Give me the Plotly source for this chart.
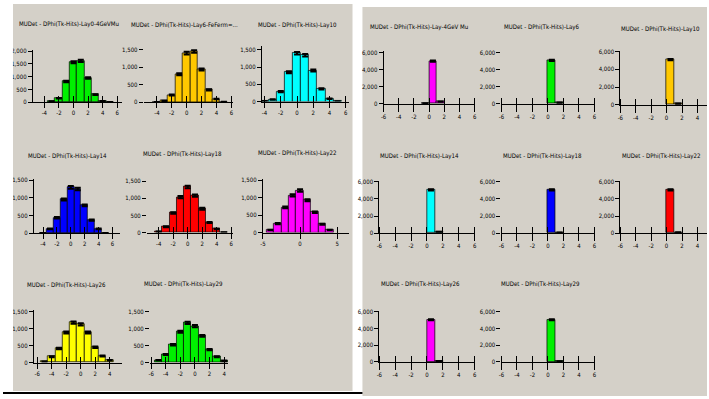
import math
import plotly.graph_objects as go

W, H = 709, 399
PANEL_GREY = "#d4d0c8"
FONT = "Liberation Sans Narrow, DejaVu Sans Condensed, Liberation Sans, sans-serif"

# Unit-width bin centres of the DPhi(Tk-Hits) histograms
bins_left = [-5, -4, -3, -2, -1, 0, 1, 2, 3, 4, 5]
bins_right = [-0.5, 0.5, 1.5]

# Entries per bin, left panel
lay0_4gev_mu = [None, None, 30, 155, 810, 1570, 1620, 950, 300, 40, 5]
lay6_feferm = [None, 5, 40, 206, 800, 1410, 1455, 940, 357, 94, 8]
lay10 = [None, 10, 60, 290, 850, 1400, 1340, 900, 370, 80, 5]
lay14 = [None, 5, 120, 435, 953, 1296, 1250, 787, 370, 120, 5]
lay18 = [None, 30, 170, 570, 1030, 1330, 1076, 695, 295, 105, 5]
lay22 = [None, 74, 259, 722, 1065, 1204, 926, 583, 241, 74, None]
lay26 = [30, 173, 414, 887, 1175, 1127, 887, 453, 193, 67, None]
lay29 = [67, 240, 529, 915, 1175, 1078, 790, 385, 173, 48, None]

# Entries per bin, right panel
r_lay_4gev_mu = [70, 5000, 260]
r_lay6 = [None, 5080, 150]
r_lay10 = [None, 5070, 150]
r_lay14 = [None, 5050, 170]
r_lay18 = [None, 5050, 60]
r_lay22 = [None, 5050, 90]
r_lay26 = [None, 5050, 100]
r_lay29 = [None, 5050, 60]

titles_left = [
    "MUDet - DPhi(Tk-Hits)-Lay0-4GeVMu",
    "MUDet - DPhi(Tk-Hits)-Lay6-FeFerm=...",
    "MUDet - DPhi(Tk-Hits)-Lay10",
    "MUDet - DPhi(Tk-Hits)-Lay14",
    "MUDet - DPhi(Tk-Hits)-Lay18",
    "MUDet - DPhi(Tk-Hits)-Lay22",
    "MUDet - DPhi(Tk-Hits)-Lay26",
    "MUDet - DPhi(Tk-Hits)-Lay29",
]
titles_right = [
    "MUDet - DPhi(Tk-Hits)-Lay-4GeV Mu",
    "MUDet - DPhi(Tk-Hits)-Lay6",
    "MUDet - DPhi(Tk-Hits)-Lay10",
    "MUDet - DPhi(Tk-Hits)-Lay14",
    "MUDet - DPhi(Tk-Hits)-Lay18",
    "MUDet - DPhi(Tk-Hits)-Lay22",
    "MUDet - DPhi(Tk-Hits)-Lay26",
    "MUDet - DPhi(Tk-Hits)-Lay29",
]

x_ticks = [-6, -4, -2, 0, 2, 4, 6]
x_ticks_coarse = [-5, 0, 5]
y_ticks_2000 = [0, 500, 1000, 1500, 2000]
y_ticks_1500 = [0, 500, 1000, 1500]
y_ticks_6000 = [0, 2000, 4000, 6000]

GREEN, ORANGE, CYAN, BLUE = "#00f000", "#ffc800", "#00ffff", "#0000ff"
RED, MAGENTA, YELLOW = "#ff0000", "#ff00ff", "#ffff00"

# (title, counts, bins, colour, x px span, (zero px, top px), x range, y max,
#  x ticks, y ticks, y line, title px, x tick length)
panels = [
    (titles_left[0], lay0_4gev_mu, bins_left, GREEN, (30, 120), (100, 47), (-5.58, 6.67), 2040, x_ticks, y_ticks_2000, True, (66, 20), 5),
    (titles_left[1], lay6_feferm, bins_left, ORANGE, (141.7, 231.7), (100, 43.2), (-5.77, 6.23), 1600, x_ticks, y_ticks_1500, False, (182.5, 21), 5),
    (titles_left[2], lay10, bins_left, CYAN, (260.7, 348), (99.3, 42.7), (-4.33, 6.34), 1612, x_ticks, y_ticks_1500, True, (297, 21), 5),
    (titles_left[3], lay14, bins_left, BLUE, (31, 118), (233.3, 178.3), (-5.33, 7.1), 1528, x_ticks, y_ticks_1500, True, (65, 155), 5),
    (titles_left[4], lay18, bins_left, RED, (145, 231.7), (232.7, 176.7), (-5.62, 6.25), 1600, x_ticks, y_ticks_1500, False, (181, 153), 5),
    (titles_left[5], lay22, bins_left, MAGENTA, (261.7, 348.3), (232.7, 178), (-5.01, 6.57), 1537, x_ticks_coarse, y_ticks_1500, True, (297, 152), 5),
    (titles_left[6], lay26, bins_left, YELLOW, (31, 120), (365, 311.7), (-6.48, 5.71), 1540, x_ticks, y_ticks_1500, True, (63.5, 286), 5),
    (titles_left[7], lay29, bins_left, GREEN, (148, 226.7), (365, 310), (-6.16, 4.54), 1600, x_ticks, y_ticks_1500, False, (181.5, 285), 5),
    (titles_right[0], r_lay_4gev_mu, bins_right, MAGENTA, (383.3, 475), (101.7, 48.3), (-6, 6), 6120, x_ticks, y_ticks_6000, True, (419, 23), 7),
    (titles_right[1], r_lay6, bins_right, GREEN, (502, 596), (101.7, 48.3), (-6, 6.05), 6120, x_ticks, y_ticks_6000, False, (543, 23), 7),
    (titles_right[2], r_lay10, bins_right, ORANGE, (621.7, 709), (102.7, 48.3), (-6, 5.24), 6000, x_ticks, y_ticks_6000, True, (662.5, 25), 7),
    (titles_right[3], r_lay14, bins_right, CYAN, (379, 475), (233.3, 180), (-6, 6), 6110, x_ticks, y_ticks_6000, True, (419, 155), 7),
    (titles_right[4], r_lay18, bins_right, BLUE, (502, 596), (233.3, 180), (-6, 6.05), 6110, x_ticks, y_ticks_6000, False, (543, 155), 7),
    (titles_right[5], r_lay22, bins_right, RED, (621.7, 709), (233.3, 180), (-6, 5.24), 6110, x_ticks, y_ticks_6000, True, (663, 155), 7),
    (titles_right[6], r_lay26, bins_right, MAGENTA, (379, 475), (364.3, 312.5), (-6, 6), 6100, x_ticks, y_ticks_6000, True, (420, 285), 7),
    (titles_right[7], r_lay29, bins_right, GREEN, (502, 596), (364.3, 312.5), (-6, 6.05), 6100, x_ticks, y_ticks_6000, False, (541, 285), 7),
]

fig = go.Figure()
layout_axes = {}
annotations = []
tick_font = dict(family=FONT, size=6, color="black")

for i, (title, counts, bins, colour, xspan, yspan, xr, ymax, xt, yt, yline, tpos, xtlen) in enumerate(panels, start=1):
    sfx = "" if i == 1 else str(i)
    errs = [math.sqrt(c) if c else 0 for c in counts]
    fig.add_trace(go.Bar(
        x=bins, y=counts, width=1,
        marker=dict(color=colour, line=dict(color="rgba(0,0,0,0.7)", width=1)),
        error_y=dict(type="data", array=errs, color="black", thickness=2, width=3),
        xaxis="x" + sfx, yaxis="y" + sfx, showlegend=False,
    ))
    layout_axes["xaxis" + sfx] = dict(
        domain=[xspan[0] / W, xspan[1] / W], range=list(xr), anchor="y" + sfx,
        showline=True, linecolor="black", linewidth=1, showgrid=False, zeroline=False,
        ticks="outside", ticklen=xtlen, tickcolor="black", tickwidth=1,
        tickvals=xt, ticktext=[str(v) for v in xt], tickfont=tick_font,
        minor=dict(tickmode="array", tickvals=[v + 1e-6 for v in xt], ticks="inside",
                   ticklen=6, tickcolor="black", tickwidth=1, showgrid=False),
        fixedrange=True,
    )
    layout_axes["yaxis" + sfx] = dict(
        domain=[1 - yspan[0] / H, 1 - yspan[1] / H], range=[0, ymax], anchor="x" + sfx,
        showline=yline, linecolor="black", linewidth=1, showgrid=False, zeroline=False,
        ticks="outside", ticklen=4, tickcolor="black", tickwidth=1,
        tickvals=yt, ticktext=[f"{v:,}" for v in yt], tickfont=tick_font,
        fixedrange=True,
    )
    annotations.append(dict(
        text=title, x=tpos[0] / W, y=1 - tpos[1] / H, xref="paper", yref="paper",
        xanchor="center", yanchor="middle", showarrow=False,
        font=dict(family=FONT, size=6.1, color="black"),
    ))

shapes = [
    # grey panel backgrounds
    dict(type="rect", xref="paper", yref="paper", x0=10 / W, x1=352 / W, y0=1 - 394 / H, y1=1,
         fillcolor=PANEL_GREY, line=dict(width=0), layer="below"),
    dict(type="rect", xref="paper", yref="paper", x0=362 / W, x1=1, y0=0, y1=1 - 3 / H,
         fillcolor=PANEL_GREY, line=dict(width=0), layer="below"),
    # white margin strip on the left edge
    dict(type="rect", xref="paper", yref="paper", x0=0, x1=10 / W, y0=0, y1=1,
         fillcolor="white", line=dict(width=0), layer="above"),
    # dark rule under the left panel
    dict(type="line", xref="paper", yref="paper", x0=0, x1=362 / W, y0=1 - 396 / H, y1=1 - 396 / H,
         line=dict(color="black", width=2), layer="above"),
]

fig.update_layout(
    width=W, height=H, margin=dict(l=0, r=0, t=0, b=0),
    paper_bgcolor="white", plot_bgcolor="rgba(0,0,0,0)",
    bargap=0, annotations=annotations, shapes=shapes,
    font=dict(family=FONT, size=7, color="black"),
    **layout_axes,
)

fig.write_html("out.html")
